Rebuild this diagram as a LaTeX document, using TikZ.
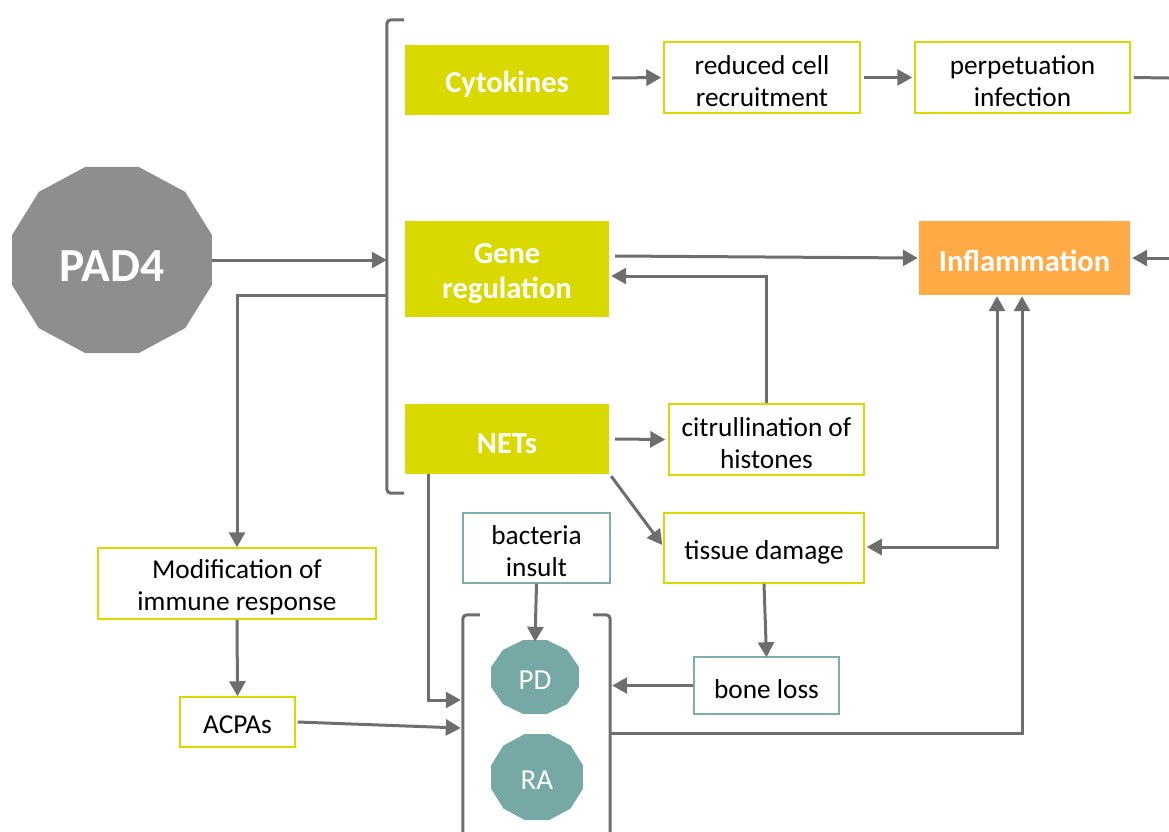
\documentclass[tikz,border=0pt]{standalone}
\usepackage{fontspec}
\setmainfont{Carlito}
\usetikzlibrary{arrows.meta,calc}

\definecolor{leaf}{RGB}{217,217,0}
\definecolor{flame}{RGB}{255,170,68}
\definecolor{sea}{RGB}{118,169,166}
\definecolor{seaedge}{RGB}{125,172,172}
\definecolor{stone}{RGB}{142,142,142}
\definecolor{wire}{RGB}{110,110,110}

\tikzset{
  solid box/.style={rectangle, inner sep=0pt, fill=leaf},
  hot box/.style={rectangle, inner sep=0pt, fill=flame},
  plain box/.style={rectangle, inner sep=0pt, draw=leaf, line width=1.5pt, fill=white},
  sea box/.style={plain box, draw=seaedge},
  head text/.style={inner sep=0pt, text=white, align=center,
    font=\fontsize{30.5}{35}\selectfont\bfseries},
  body text/.style={inner sep=0pt, align=center, font=\fontsize{27.3}{32}\selectfont},
  link/.style={draw=wire, line width=3pt},
  arr/.style={link, -{Triangle[length=15pt,width=16pt]}},
  biarr/.style={link, {Triangle[length=15pt,width=16pt]}-{Triangle[length=15pt,width=16pt]}},
  holder/.style={rectangle, inner sep=0pt, draw=none},
}

\begin{document}
\begin{tikzpicture}[x=1pt,y=-1pt]
\useasboundingbox (0,0) rectangle (1169,831);

% dodecagon badges
\fill[stone] plot[samples at={15,45,...,345}] ({112+103.5*cos(\x)},{260+96.3*sin(\x)}) -- cycle;
\fill[sea] plot[samples at={15,45,...,345}] ({535+45.5*cos(\x)},{677+38.3*sin(\x)}) -- cycle;
\fill[sea] plot[samples at={15,45,...,345}] ({537+47.6*cos(\x)},{777+44.5*sin(\x)}) -- cycle;

\node[holder, minimum width=200pt, minimum height=186pt] (pad4) at (112,260) {};
\node[holder, minimum width=88pt, minimum height=74pt] (pd) at (535,677) {};
\node[holder, minimum width=92pt, minimum height=86pt] (ra) at (537,777) {};
\node[inner sep=0pt, text=white, font=\fontsize{47.5}{50}\selectfont\bfseries] (pad4 text) at ([yshift=-6pt]pad4.center) {PAD4};
\node[inner sep=0pt, text=white, font=\fontsize{29}{32}\selectfont] (pd text) at ([yshift=-3pt]pd.center) {PD};
\node[inner sep=0pt, text=white, font=\fontsize{29}{32}\selectfont] (ra text) at ([yshift=-3pt]ra.center) {RA};

% boxes
\node[solid box, minimum width=204pt, minimum height=70pt] (cyto) at (507,80) {};
\node[plain box, minimum width=196pt, minimum height=71pt] (recr) at (762,77.5) {};
\node[plain box, minimum width=215pt, minimum height=71pt] (perp) at (1022.5,77.5) {};
\node[solid box, minimum width=204pt, minimum height=96pt] (gene) at (507,269) {};
\node[hot box, minimum width=211pt, minimum height=74pt] (infl) at (1024.5,258) {};
\node[solid box, minimum width=204pt, minimum height=70pt] (nets) at (507,439) {};
\node[plain box, minimum width=195pt, minimum height=71pt] (citr) at (766.5,439.5) {};
\node[plain box, minimum width=200pt, minimum height=70pt] (tissue) at (764,548) {};
\node[sea box, minimum width=147pt, minimum height=70pt] (bact) at (536.5,548) {};
\node[sea box, minimum width=145pt, minimum height=57pt] (bone) at (766.5,685.5) {};
\node[plain box, minimum width=278pt, minimum height=71pt] (modif) at (237,583.5) {};
\node[plain box, minimum width=115pt, minimum height=50pt] (acpas) at (237.5,722) {};

% box labels
\node[head text] (cyto text) at ([yshift=-4pt]cyto.center) {Cytokines};
\node[head text] (gene text) at ([yshift=-5pt]gene.center) {Gene\\regulation};
\node[head text] (infl text) at ([yshift=-3pt]infl.center) {Inflammation};
\node[head text] (nets text) at ([yshift=-5pt]nets.center) {NETs};
\node[body text] (recr text) at ([yshift=-3.5pt]recr.center) {reduced cell\\recruitment};
\node[body text] (perp text) at ([yshift=-3.5pt]perp.center) {perpetuation\\infection};
\node[body text] (citr text) at ([yshift=-3.5pt]citr.center) {citrullination of\\histones};
\node[body text] (tissue text) at ([yshift=-4pt]tissue.center) {tissue damage};
\node[body text] (bact text) at ([yshift=-3.5pt]bact.center) {bacteria\\insult};
\node[body text] (bone text) at ([yshift=-3.5pt]bone.center) {bone loss};
\node[body text] (modif text) at ([yshift=-4pt]modif.center) {Modification of\\immune response};
\node[body text] (acpas text) at ([yshift=-3pt]acpas.center) {ACPAs};

% bracket groups
\node[holder, minimum width=17pt, minimum height=473pt] (grp) at (395.5,256.5) {};
\node[holder, minimum width=147pt, minimum height=236pt] (dis) at (536.5,733) {};
\draw[link, rounded corners=4pt] (grp.north east) -- (grp.north west) -- (grp.south west) -- (grp.south east);
\draw[link, rounded corners=4pt] ([xshift=17pt]dis.north west) -- (dis.north west) -- (dis.south west);
\draw[link, rounded corners=4pt] ([xshift=-17pt]dis.north east) -- (dis.north east) -- (dis.south east);

% off-page ends
\coordinate (outA) at (1169,78);
\coordinate (outB) at (1169,258);

% connectors
\draw[arr] (pad4.east) -- (pad4.east -| grp.west);
\draw[arr] ([yshift=-38.5pt]grp.west) -| (modif.north);
\draw[arr] (modif.south) -- (acpas.north);
\draw[arr] ([xshift=2pt]acpas.east) -- ([xshift=-2pt,yshift=-6pt]acpas.east -| dis.west);
\draw[arr] ([xshift=-79pt]nets.south) |- ([xshift=-2pt,yshift=33pt]dis.west);

\draw[arr] ([xshift=3pt,yshift=2pt]cyto.east) -- ([xshift=-2pt]recr.west);
\draw[arr] ([xshift=3pt]recr.east) -- ([xshift=-2pt]perp.west);
\draw[link] ([xshift=3pt]perp.east) -- (outA);
\draw[arr] (outB) -- ([xshift=2pt]infl.east);

\draw[arr] ([xshift=6pt,yshift=13pt]gene.east) -- ([xshift=-1pt]infl.west);
\draw[arr] (citr.north) |- ([xshift=2pt,yshift=-7pt]gene.east);
\draw[arr] ([xshift=6pt]nets.east) -- ([xshift=-3pt]citr.west);
\draw[arr] ([shift={(2pt,-2pt)}]nets.south east) -- ([xshift=-1pt,yshift=3pt]tissue.west);

\draw[biarr] ([xshift=-27.5pt,yshift=-1pt]infl.south) |- ([xshift=2pt,yshift=1pt]tissue.east);
\draw[arr] (dis.east) -| ([xshift=-2.5pt,yshift=-1pt]infl.south);

\draw[arr] (tissue.south) -- ([yshift=-1pt]bone.north);
\draw[arr] (bone.west) -- ([xshift=2pt]bone.west -| dis.east);
\draw[arr] (bact.south) -- ([yshift=-2pt]pd.north);
\end{tikzpicture}
\end{document}
